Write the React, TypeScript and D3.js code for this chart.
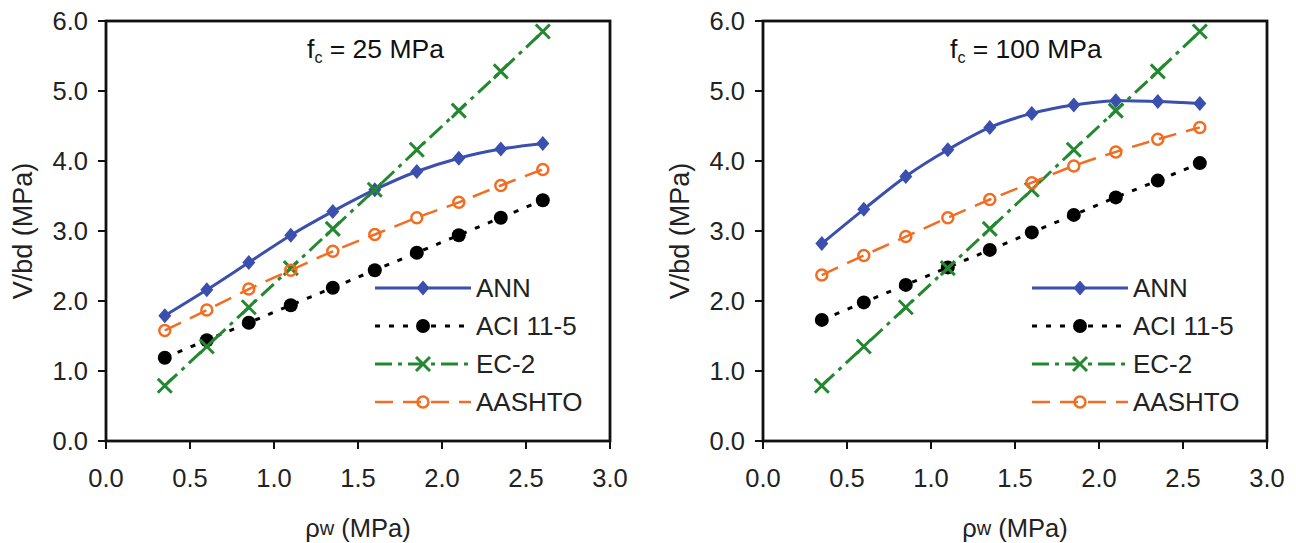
import React, { useRef, useEffect } from 'react';
import * as d3 from 'd3';

// reinforcement ratio values along x
const rho = [0.35, 0.6, 0.85, 1.1, 1.35, 1.6, 1.85, 2.1, 2.35, 2.6];

// fc = 25 MPa
const annLeft = [1.79, 2.16, 2.55, 2.94, 3.28, 3.59, 3.85, 4.04, 4.17, 4.25];
const aciLeft = [1.19, 1.44, 1.69, 1.94, 2.19, 2.44, 2.69, 2.94, 3.19, 3.44];
const ec2Left = [0.79, 1.35, 1.91, 2.47, 3.03, 3.59, 4.16, 4.72, 5.28, 5.85];
const aashtoLeft = [1.58, 1.87, 2.17, 2.44, 2.71, 2.95, 3.19, 3.41, 3.65, 3.88];

// fc = 100 MPa
const annRight = [2.82, 3.31, 3.78, 4.16, 4.48, 4.68, 4.80, 4.86, 4.85, 4.82];
const aciRight = [1.73, 1.98, 2.23, 2.48, 2.73, 2.98, 3.23, 3.48, 3.72, 3.97];
const ec2Right = [0.79, 1.35, 1.91, 2.47, 3.03, 3.59, 4.16, 4.72, 5.28, 5.85];
const aashtoRight = [2.37, 2.65, 2.92, 3.19, 3.45, 3.69, 3.93, 4.13, 4.31, 4.48];

const seriesNames = ['ANN', 'ACI 11-5', 'EC-2', 'AASHTO'];
const xTicks = [0, 0.5, 1.0, 1.5, 2.0, 2.5, 3.0];
const yTicks = [0, 1, 2, 3, 4, 5, 6];

const styles = [
  { color: '#3a4fae', dash: null, width: 3, marker: 'diamond' },
  { color: '#000000', dash: '5,9', width: 3, marker: 'dot' },
  { color: '#23882f', dash: '17,6,4,6', width: 3, marker: 'cross' },
  { color: '#f26d21', dash: '18,10', width: 2.5, marker: 'ring' },
];

const FONT = '"Liberation Sans", Arial, sans-serif';

const drawMarker = (g, kind, x, y, color) => {
  if (kind === 'diamond') {
    g.append('path')
      .attr('d', `M${x},${y - 7.5}L${x + 6.5},${y}L${x},${y + 7.5}L${x - 6.5},${y}Z`)
      .attr('fill', color);
  } else if (kind === 'dot') {
    g.append('circle').attr('cx', x).attr('cy', y).attr('r', 7).attr('fill', color);
  } else if (kind === 'cross') {
    g.append('path')
      .attr('d', `M${x - 7},${y - 7}L${x + 7},${y + 7}M${x - 7},${y + 7}L${x + 7},${y - 7}`)
      .attr('stroke', color).attr('stroke-width', 3).attr('fill', 'none');
  } else {
    g.append('circle').attr('cx', x).attr('cy', y).attr('r', 5.5)
      .attr('fill', 'none').attr('stroke', color).attr('stroke-width', 2.5);
  }
};

const drawPanel = (svg, left, series, title, titleX) => {
  const top = 21, bottom = 441, width = 504;
  const x = d3.scaleLinear().domain([0, 3]).range([left, left + width]);
  const y = d3.scaleLinear().domain([0, 6]).range([bottom, top]);
  const g = svg.append('g');

  // frame
  g.append('rect')
    .attr('x', left).attr('y', top)
    .attr('width', width).attr('height', bottom - top)
    .attr('fill', 'none').attr('stroke', '#111').attr('stroke-width', 2.8);

  // y axis ticks + labels
  yTicks.forEach(t => {
    g.append('line')
      .attr('x1', left - 8).attr('x2', left)
      .attr('y1', y(t)).attr('y2', y(t))
      .attr('stroke', '#111').attr('stroke-width', 2);
    g.append('text')
      .attr('x', left - 18).attr('y', y(t))
      .attr('text-anchor', 'end').attr('dominant-baseline', 'central')
      .style('font-family', FONT).style('font-size', '25.5px').attr('fill', '#222')
      .text(t.toFixed(1));
  });

  // x axis ticks + labels
  xTicks.forEach(t => {
    g.append('line')
      .attr('x1', x(t)).attr('x2', x(t))
      .attr('y1', bottom).attr('y2', bottom + 8)
      .attr('stroke', '#111').attr('stroke-width', 2);
    g.append('text')
      .attr('x', x(t)).attr('y', 478)
      .attr('text-anchor', 'middle').attr('dominant-baseline', 'central')
      .style('font-family', FONT).style('font-size', '25.5px').attr('fill', '#222')
      .text(t.toFixed(1));
  });

  // axis titles
  g.append('text')
    .attr('transform', `translate(${left - 83},${(top + bottom) / 2}) rotate(-90)`)
    .attr('text-anchor', 'middle').attr('dominant-baseline', 'central')
    .style('font-family', FONT).style('font-size', '27px').attr('fill', '#222')
    .text('V/bd (MPa)');

  const xt = g.append('text')
    .attr('x', left + width / 2).attr('y', 528)
    .attr('text-anchor', 'middle').attr('dominant-baseline', 'central')
    .style('font-family', FONT).style('font-size', '25.5px').attr('fill', '#222');
  xt.append('tspan').text('ρ');
  xt.append('tspan').style('font-size', '20px').text('w');
  xt.append('tspan').text(' (MPa)');

  // panel title  f_c = .. MPa
  const tt = g.append('text')
    .attr('x', titleX).attr('y', 58)
    .style('font-family', FONT).style('font-size', '26.5px').attr('fill', '#111');
  tt.append('tspan').text('f');
  tt.append('tspan').attr('dy', 5).style('font-size', '16px').text('c');
  tt.append('tspan').attr('dy', -5).text(` = ${title} MPa`);

  const line = d3.line()
    .x(d => x(d[0]))
    .y(d => y(d[1]))
    .curve(d3.curveCatmullRom.alpha(0.5));

  series.forEach((vals, i) => {
    const st = styles[i];
    const pts = rho.map((r, k) => [r, vals[k]]);
    g.append('path')
      .attr('d', line(pts))
      .attr('fill', 'none')
      .attr('stroke', st.color)
      .attr('stroke-width', st.width)
      .attr('stroke-dasharray', st.dash);
    pts.forEach(p => drawMarker(g, st.marker, x(p[0]), y(p[1]), st.color));
  });

  // legend
  const lx = left + 269;
  const rows = [288, 326, 364, 402];
  seriesNames.forEach((name, i) => {
    const st = styles[i];
    g.append('line')
      .attr('x1', lx).attr('x2', lx + 96)
      .attr('y1', rows[i]).attr('y2', rows[i])
      .attr('stroke', st.color).attr('stroke-width', st.width)
      .attr('stroke-dasharray', st.dash);
    drawMarker(g, st.marker, lx + 48, rows[i], st.color);
    g.append('text')
      .attr('x', lx + 101).attr('y', rows[i])
      .attr('dominant-baseline', 'central')
      .style('font-family', FONT).style('font-size', '26px').attr('fill', '#222')
      .text(name);
  });
};

const App = () => {
  const ref = useRef(null);

  useEffect(() => {
    const svg = d3.select(ref.current);
    svg.selectAll('*').remove();
    svg.append('rect').attr('width', 1296).attr('height', 543).attr('fill', '#fff');
    drawPanel(svg, 106, [annLeft, aciLeft, ec2Left, aashtoLeft], '25', 307);
    drawPanel(svg, 763, [annRight, aciRight, ec2Right, aashtoRight], '100', 950);
  }, []);

  return (
    <svg
      ref={ref}
      width={1296}
      height={543}
      style={{ position: 'absolute', left: 0, top: 0 }}
    />
  );
};

export default App;
